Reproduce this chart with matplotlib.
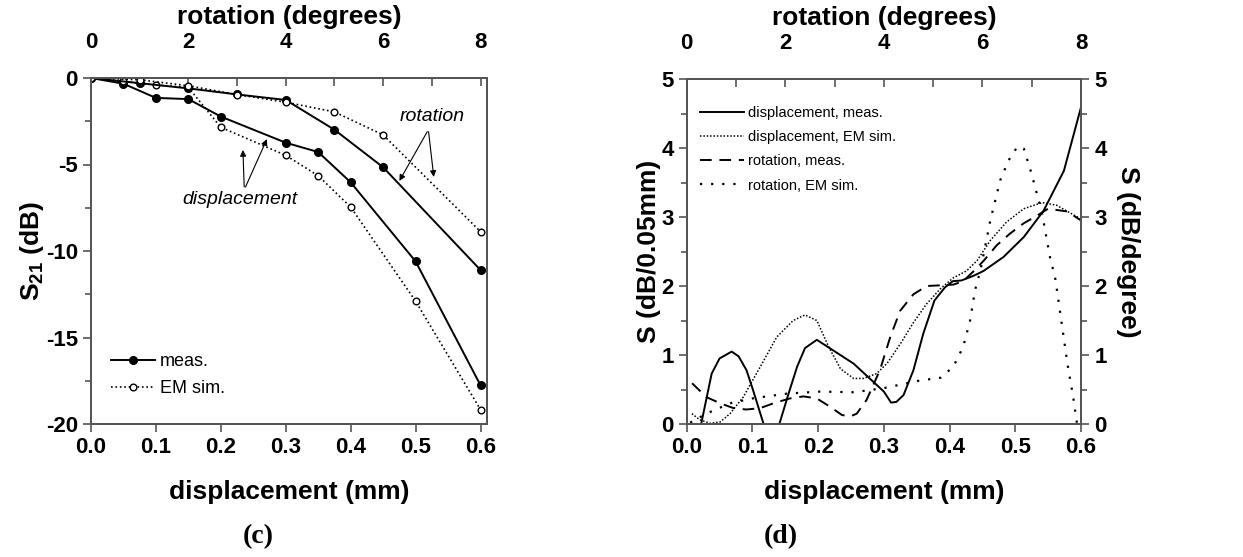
import matplotlib
matplotlib.use('Agg')
import matplotlib.pyplot as plt
from matplotlib.lines import Line2D
from matplotlib.ticker import MultipleLocator

plt.rcParams['font.family'] = ['Liberation Sans', 'DejaVu Sans']
plt.rcParams['axes.unicode_minus'] = False
plt.rcParams['mathtext.fontset'] = 'custom'
plt.rcParams['mathtext.rm'] = 'Liberation Sans:bold'
plt.rcParams['mathtext.bf'] = 'Liberation Sans:bold'

############ (c) S21 vs displacement / rotation ############
disp_x = [0, 0.05, 0.1, 0.15, 0.2, 0.3, 0.35, 0.4, 0.5, 0.6]
disp_meas = [0, -0.33, -1.15, -1.22, -2.23, -3.74, -4.28, -6.03, -10.6, -17.76]
disp_sim = [0, -0.2, -0.4, -0.55, -2.85, -4.47, -5.65, -7.46, -12.9, -19.17]

rot_x = [0, 1, 2, 3, 4, 5, 6, 8]
rot_meas = [0, -0.3, -0.6, -0.95, -1.27, -2.99, -5.16, -11.1]
rot_sim = [0, -0.1, -0.45, -0.96, -1.4, -1.96, -3.29, -8.88]

############ (d) sensitivity ############
sd_meas_x = [0.022, 0.038, 0.05, 0.0685, 0.079, 0.091, 0.101, 0.117, 0.129, 0.141, 0.155,
             0.168, 0.18, 0.198, 0.254, 0.3, 0.311, 0.319, 0.33, 0.345, 0.36, 0.377,
             0.393, 0.405, 0.418, 0.437, 0.452, 0.482, 0.513, 0.543, 0.574, 0.6]
sd_meas = [0, 0.73, 0.95, 1.05, 0.98, 0.78, 0.49, 0, -0.4, 0, 0.44,
           0.83, 1.1, 1.22, 0.875, 0.47, 0.31, 0.32, 0.42, 0.78, 1.31, 1.79,
           1.98, 2.07, 2.08, 2.15, 2.22, 2.42, 2.71, 3.09, 3.67, 4.59]

sd_sim_x = [0.008, 0.02, 0.036, 0.051, 0.066, 0.086, 0.112, 0.137, 0.162, 0.18, 0.198,
            0.216, 0.234, 0.254, 0.269, 0.289, 0.305, 0.325, 0.345, 0.365, 0.386,
            0.406, 0.426, 0.442, 0.462, 0.487, 0.513, 0.541, 0.563, 0.6]
sd_sim = [0.15, 0.06, 0.01, 0.03, 0.15, 0.39, 0.83, 1.26, 1.5, 1.58, 1.5,
          1.12, 0.8, 0.66, 0.66, 0.73, 0.88, 1.16, 1.47, 1.74, 1.96,
          2.12, 2.22, 2.37, 2.66, 2.93, 3.12, 3.21, 3.17, 2.97]

# rotation curves, x in degrees
sr_meas_x = [0.11, 0.4, 0.68, 0.95, 1.21, 1.49, 1.76, 2.09, 2.37, 2.64, 2.91, 3.15, 3.32,
             3.45, 3.65, 3.92, 4.13, 4.33, 4.6, 4.87, 5.15, 5.41, 5.61, 5.83, 6.03,
             6.29, 6.56, 6.84, 7.11, 7.33, 7.72, 8.0]
sr_meas = [0.59, 0.39, 0.3, 0.23, 0.21, 0.23, 0.3, 0.37, 0.4, 0.37, 0.25, 0.13, 0.11,
           0.15, 0.35, 0.78, 1.26, 1.64, 1.88, 2.0, 2.01, 2.02, 2.07, 2.22, 2.37,
           2.59, 2.76, 2.91, 3.02, 3.12, 3.08, 2.95]

sr_sim_x = [0.07, 0.4, 0.88, 1.33, 2.03, 2.71, 3.39, 4.0, 4.73, 5.15, 5.41, 5.61, 5.75,
            5.85, 5.96, 6.16, 6.36, 6.53, 6.71, 6.84, 7.0, 7.21, 7.37, 7.48, 7.6,
            7.73, 7.84, 7.92]
sr_sim = [0.02, 0.15, 0.3, 0.37, 0.44, 0.47, 0.46, 0.52, 0.63, 0.67, 0.83, 1.12, 1.5,
          1.94, 2.23, 2.95, 3.53, 3.82, 4.02, 3.99, 3.62, 3.05, 2.42, 2.1, 1.5,
          0.85, 0.4, 0.0]

TICK_FS = 16
LAB_FS = 19
SPINE = '#555555'


def style_axis(a):
    for s in a.spines.values():
        s.set_color(SPINE)
        s.set_linewidth(1.4)
    a.tick_params(which='both', width=1.2, color=SPINE, labelsize=TICK_FS)
    for lab in a.get_xticklabels() + a.get_yticklabels():
        lab.set_fontweight('bold')


fig = plt.figure(figsize=(12.43, 5.57), dpi=100)

################################ panel (c)
ax = fig.add_axes([91 / 1243, 1 - 424 / 557, 396 / 1243, 346 / 557])
ax.plot(disp_x, disp_meas, '-', color='black', lw=1.4, marker='o', ms=5.5, mfc='black', mec='black')
ax.plot(disp_x, disp_sim, ':', color='black', lw=1.2, marker='o', ms=4.8, mfc='white', mec='black', mew=1)
ax.set_xlim(0, 0.61)
ax.set_ylim(-20, 0)
ax.yaxis.set_major_locator(MultipleLocator(5))
ax.yaxis.set_minor_locator(MultipleLocator(2.5))
ax.set_xticks([0, 0.1, 0.2, 0.3, 0.4, 0.5, 0.6])
ax.set_xticklabels(['0.0', '0.1', '0.2', '0.3', '0.4', '0.5', '0.6'])
ax.tick_params(axis='both', which='major', direction='out', length=6)
ax.tick_params(axis='y', which='minor', direction='out', length=4)
ax.set_xlabel('displacement (mm)', fontsize=LAB_FS, fontweight='bold', labelpad=16)
ax.set_ylabel(r'S$_{21}$ (dB)', fontsize=LAB_FS, fontweight='bold', labelpad=0)
style_axis(ax)

axt = ax.twiny()
axt.plot(rot_x, rot_meas, '-', color='black', lw=1.4, marker='o', ms=5.5, mfc='black', mec='black')
axt.plot(rot_x, rot_sim, ':', color='black', lw=1.2, marker='o', ms=4.8, mfc='white', mec='black', mew=1)
axt.set_xlim(0, 0.61 * 8 / 0.6)
axt.xaxis.set_major_locator(MultipleLocator(2))
axt.xaxis.set_minor_locator(MultipleLocator(1))
axt.tick_params(axis='x', which='major', direction='in', length=6, pad=18)
axt.tick_params(axis='x', which='minor', direction='in', length=6)
axt.set_xlabel('rotation (degrees)', fontsize=LAB_FS, fontweight='bold', labelpad=6)
style_axis(axt)

h1 = Line2D([], [], ls='-', color='black', lw=1.4, marker='o', ms=5.5, mfc='black')
h2 = Line2D([], [], ls=':', color='black', lw=1.2, marker='o', ms=4.8, mfc='white', mew=1)
ax.legend([h1, h2], ['meas.', 'EM sim.'], loc='lower left', bbox_to_anchor=(0.01, 0.03),
          frameon=False, fontsize=13, handlelength=2.4, numpoints=1,
          handletextpad=0.3, labelspacing=0.55)

arr = dict(arrowstyle='-|>', color='black', lw=0.8, mutation_scale=9, shrinkA=0, shrinkB=0)
ax.text(0.526, -2.25, 'rotation', style='italic', fontsize=14, ha='center', va='center')
ax.annotate('', xy=(0.475, -5.95), xytext=(0.518, -3.1), arrowprops=arr)
ax.annotate('', xy=(0.528, -5.72), xytext=(0.52, -3.1), arrowprops=arr)
ax.text(0.229, -7.05, 'displacement', style='italic', fontsize=14, ha='center', va='center')
ax.annotate('', xy=(0.234, -4.16), xytext=(0.236, -6.3), arrowprops=arr)
ax.annotate('', xy=(0.271, -3.53), xytext=(0.238, -6.3), arrowprops=arr)

fig.text(258 / 1243, 1 - 537 / 557, '(c)', family='Liberation Serif', fontweight='bold',
         fontsize=20, ha='center', va='center')

################################ panel (d)
bx = fig.add_axes([686.7 / 1243, 1 - 424 / 557, 394.3 / 1243, 345 / 557])
l1, = bx.plot(sd_meas_x, sd_meas, '-', color='black', lw=1.4)
l2, = bx.plot(sd_sim_x, sd_sim, color='black', lw=1.1, ls=(0, (1, 1.2)))
bx.set_xlim(0, 0.6)
bx.set_ylim(0, 5)
bx.set_xticks([0, 0.1, 0.2, 0.3, 0.4, 0.5, 0.6])
bx.set_xticklabels(['0.0', '0.1', '0.2', '0.3', '0.4', '0.5', '0.6'])
bx.yaxis.set_major_locator(MultipleLocator(1))
bx.yaxis.set_minor_locator(MultipleLocator(0.5))
bx.tick_params(axis='both', which='major', direction='out', length=6)
bx.tick_params(axis='y', which='minor', direction='out', length=4)
bx.set_xlabel('displacement (mm)', fontsize=LAB_FS, fontweight='bold', labelpad=16)
bx.set_ylabel('S (dB/0.05mm)', fontsize=LAB_FS, fontweight='bold', labelpad=0)
style_axis(bx)

bt = bx.twiny()
l3, = bt.plot(sr_meas_x, sr_meas, color='black', lw=1.4, ls=(0, (6, 4)))
l4, = bt.plot(sr_sim_x, sr_sim, color='black', lw=1.6, ls=(0, (1, 4)))
bt.set_xlim(0, 8)
bt.xaxis.set_major_locator(MultipleLocator(2))
bt.xaxis.set_minor_locator(MultipleLocator(1))
bt.tick_params(axis='x', which='major', direction='in', length=6, pad=18)
bt.tick_params(axis='x', which='minor', direction='in', length=6)
bt.set_xlabel('rotation (degrees)', fontsize=LAB_FS, fontweight='bold', labelpad=6)
style_axis(bt)

br = bx.twinx()
br.set_ylim(0, 5)
br.yaxis.set_major_locator(MultipleLocator(1))
br.yaxis.set_minor_locator(MultipleLocator(0.5))
br.tick_params(axis='y', which='major', direction='out', length=6)
br.tick_params(axis='y', which='minor', direction='out', length=4)
br.set_ylabel('S (dB/degree)', fontsize=LAB_FS, fontweight='bold',
              rotation=270, labelpad=24)
style_axis(br)

br.legend([l1, l2, l3, l4],
          ['displacement, meas.', 'displacement, EM sim.', 'rotation, meas.', 'rotation, EM sim.'],
          loc='upper left', bbox_to_anchor=(0.0, 0.96), frameon=False, fontsize=10.5,
          handlelength=3.0, handletextpad=0.3, labelspacing=0.7)

fig.text(781 / 1243, 1 - 537 / 557, '(d)', family='Liberation Serif', fontweight='bold',
         fontsize=20, ha='center', va='center')

fig.savefig('out.png', dpi=100)
